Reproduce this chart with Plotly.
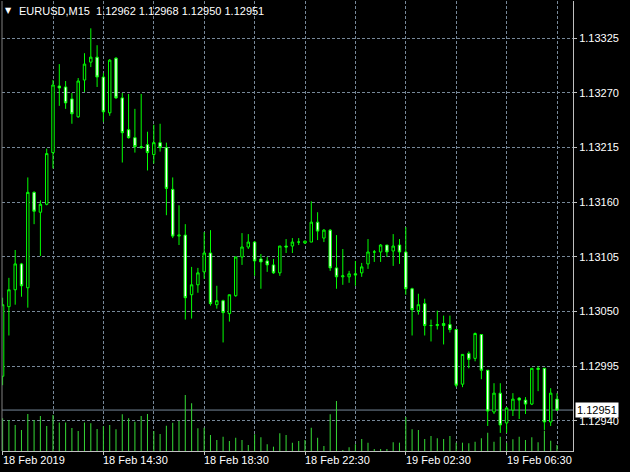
import plotly.graph_objects as go

symbol = "EURUSD"
timeframe = "M15"

open_ = [1.12985, 1.13055, 1.13072, 1.13098, 1.13074, 1.13170, 1.13150, 1.13158, 1.13210, 1.13277,
         1.13276, 1.13264, 1.13246, 1.13283, 1.13301, 1.13306, 1.13286, 1.13250, 1.13305, 1.13265,
         1.13233, 1.13225, 1.13216, 1.13218, 1.13208, 1.13220, 1.13215, 1.13173, 1.13126, 1.13127,
         1.13067, 1.13077, 1.13090, 1.13109, 1.13057, 1.13061, 1.13048, 1.13066, 1.13105, 1.13115,
         1.13120, 1.13103, 1.13101, 1.13097, 1.13089, 1.13116, 1.13116, 1.13120, 1.13119, 1.13120,
         1.13140, 1.13124, 1.13132, 1.13094, 1.13085, 1.13085, 1.13088, 1.13089, 1.13098, 1.13110,
         1.13110, 1.13117, 1.13111, 1.13117, 1.13110, 1.13073, 1.13051, 1.13058, 1.13036, 1.13036,
         1.13038, 1.13037, 1.13032, 1.12977, 1.13008, 1.13003, 1.13027, 1.12991, 1.12949, 1.12968,
         1.12938, 1.12951, 1.12963, 1.12961, 1.12957, 1.12993, 1.12993, 1.12939, 1.12962]
high = [1.13064, 1.13084, 1.13112, 1.13099, 1.13185, 1.13171, 1.13162, 1.13214, 1.13283, 1.13299,
        1.13282, 1.13270, 1.13285, 1.13310, 1.13335, 1.13318, 1.13290, 1.13304, 1.13306, 1.13270,
        1.13269, 1.13254, 1.13269, 1.13231, 1.13238, 1.13239, 1.13220, 1.13185, 1.13157, 1.13138,
        1.13095, 1.13094, 1.13130, 1.13132, 1.13076, 1.13062, 1.13067, 1.13105, 1.13129, 1.13128,
        1.13121, 1.13108, 1.13105, 1.13103, 1.13116, 1.13123, 1.13124, 1.13124, 1.13121, 1.13161,
        1.13150, 1.13133, 1.13133, 1.13127, 1.13113, 1.13091, 1.13101, 1.13099, 1.13123, 1.13112,
        1.13118, 1.13117, 1.13128, 1.13123, 1.13135, 1.13074, 1.13068, 1.13063, 1.13042, 1.13051,
        1.13046, 1.13046, 1.13032, 1.13007, 1.13010, 1.13029, 1.13027, 1.12991, 1.12978, 1.12978,
        1.12954, 1.12968, 1.12964, 1.12964, 1.12993, 1.12995, 1.12993, 1.12973, 1.12968]
low = [1.12976, 1.13026, 1.13057, 1.13065, 1.13054, 1.13138, 1.13106, 1.13157, 1.13194, 1.13257,
       1.13254, 1.13239, 1.13245, 1.13271, 1.13296, 1.13276, 1.13241, 1.13247, 1.13264, 1.13200,
       1.13224, 1.13210, 1.13214, 1.13192, 1.13199, 1.13211, 1.13147, 1.13124, 1.13117, 1.13042,
       1.13043, 1.13069, 1.13083, 1.13056, 1.13053, 1.13019, 1.13040, 1.13065, 1.13097, 1.13113,
       1.13086, 1.13073, 1.13090, 1.13088, 1.13086, 1.13109, 1.13109, 1.13117, 1.13118, 1.13120,
       1.13122, 1.13120, 1.13091, 1.13073, 1.13077, 1.13079, 1.13076, 1.13085, 1.13093, 1.13100,
       1.13100, 1.13105, 1.13096, 1.13098, 1.13067, 1.13026, 1.13047, 1.13026, 1.13020, 1.13032,
       1.13017, 1.13029, 1.12974, 1.12974, 1.12993, 1.13000, 1.12982, 1.12935, 1.12947, 1.12928,
       1.12928, 1.12945, 1.12942, 1.12947, 1.12956, 1.12970, 1.12931, 1.12935, 1.12950]
close = [1.13057, 1.13072, 1.13098, 1.13076, 1.13170, 1.13151, 1.13158, 1.13209, 1.13278, 1.13275,
         1.13260, 1.13249, 1.13282, 1.13299, 1.13306, 1.13286, 1.13251, 1.13303, 1.13265, 1.13230,
         1.13225, 1.13216, 1.13215, 1.13210, 1.13220, 1.13215, 1.13174, 1.13126, 1.13127, 1.13064,
         1.13077, 1.13089, 1.13109, 1.13058, 1.13061, 1.13049, 1.13067, 1.13105, 1.13115, 1.13120,
         1.13101, 1.13100, 1.13097, 1.13089, 1.13116, 1.13115, 1.13120, 1.13120, 1.13121, 1.13140,
         1.13131, 1.13132, 1.13094, 1.13085, 1.13086, 1.13088, 1.13087, 1.13095, 1.13110, 1.13110,
         1.13117, 1.13110, 1.13116, 1.13110, 1.13073, 1.13052, 1.13057, 1.13036, 1.13036, 1.13037,
         1.13036, 1.13032, 1.12976, 1.13007, 1.13002, 1.13028, 1.12991, 1.12950, 1.12968, 1.12936,
         1.12953, 1.12962, 1.12961, 1.12957, 1.12993, 1.12992, 1.12939, 1.12968, 1.12951]
volume = [392, 372, 312, 252, 444, 372, 420, 300, 432, 342,
          342, 276, 240, 342, 332, 264, 296, 312, 260, 440,
          392, 352, 420, 444, 240, 204, 304, 340, 360, 672,
          572, 272, 280, 192, 132, 172, 120, 160, 132, 72,
          200, 164, 80, 52, 212, 192, 100, 120, 132, 280,
          160, 60, 440, 600, 12, 44, 80, 144, 100, 24,
          24, 24, 104, 100, 408, 260, 252, 144, 180, 152,
          144, 180, 100, 100, 92, 112, 152, 220, 112, 172,
          100, 140, 172, 132, 164, 104, 244, 124, 72]

time_label_bars = [0, 16, 32, 48, 64, 80]
time_labels = ["18 Feb 2019", "18 Feb 14:30", "18 Feb 18:30", "18 Feb 22:30", "19 Feb 02:30", "19 Feb 06:30"]
price_ticks = [1.12940, 1.12995, 1.13050, 1.13105, 1.13160, 1.13215, 1.13270, 1.13325]

bars = list(range(len(close)))

FONT = "Liberation Sans"
GRID = "#778899"
W, H = 630, 472
ML, MR, MT, MB = 2, 57, 1, 21
plot_w = W - ML - MR
plot_h = H - MT - MB

fig = go.Figure()
fig.add_trace(go.Bar(x=bars, y=volume, yaxis="y2", width=0.17,
                     marker=dict(color="#32CD32", line=dict(width=0)),
                     hoverinfo="skip", showlegend=False))
fig.add_trace(go.Candlestick(
    x=bars, open=open_, high=high, low=low, close=close,
    increasing=dict(line=dict(color="#00FF00", width=1), fillcolor="#000000"),
    decreasing=dict(line=dict(color="#00FF00", width=1), fillcolor="#FFFFFF"),
    whiskerwidth=0, hoverinfo="skip", showlegend=False))

# Bid line
fig.add_shape(type="line", xref="paper", x0=0, x1=1, yref="y", y0=close[-1], y1=close[-1],
              line=dict(color=GRID, width=1), layer="between")
# left border
fig.add_shape(type="line", xref="paper", yref="paper", x0=0, x1=0, y0=0, y1=1,
              line=dict(color="#808080", width=1))

annotations = []
for b, t in zip(time_label_bars, time_labels):
    annotations.append(dict(x=b, xref="x", y=0, yref="paper", text=t, showarrow=False,
                            xanchor="left", yanchor="top", xshift=-2, yshift=-1,
                            font=dict(family=FONT, size=11, color="#FFFFFF")))
title_text = f"{symbol},{timeframe}  {open_[-1]:.5f} {high[-1]:.5f} {low[-1]:.5f} {close[-1]:.5f}"
annotations.append(dict(x=(19 - ML) / plot_w, xref="paper", y=(H - MB - 11) / plot_h, yref="paper",
                        text=title_text, showarrow=False, xanchor="left", yanchor="middle", xshift=-2,
                        font=dict(family=FONT, size=11, color="#FFFFFF")))
annotations.append(dict(x=(5 - ML) / plot_w, xref="paper", y=(H - MB - 10) / plot_h, yref="paper",
                        text="▼", showarrow=False, xanchor="left", yanchor="middle", xshift=-2,
                        font=dict(family="DejaVu Sans", size=8, color="#FFFFFF")))
annotations.append(dict(x=1, xref="paper", y=close[-1], yref="y", text=f"{close[-1]:.5f}",
                        showarrow=False, xanchor="left", yanchor="middle", xshift=2,
                        bgcolor="#FFFFFF", borderpad=1,
                        font=dict(family=FONT, size=11, color="#000000")))

fig.update_layout(
    width=W, height=H,
    margin=dict(l=ML, r=MR, t=MT, b=MB),
    paper_bgcolor="#000000", plot_bgcolor="#000000",
    showlegend=False, hovermode=False, boxgap=0.45,
    annotations=annotations,
    xaxis=dict(range=[-0.095, 90.54], rangeslider=dict(visible=False),
               tickvals=list(range(8, len(bars), 8)), showticklabels=False, ticks="",
               showgrid=True, gridcolor=GRID, gridwidth=1, griddash="3px,2px",
               minor=dict(tickmode="array", tickvals=time_label_bars, ticks="outside",
                          ticklen=3, tickcolor="#C0C0C0", showgrid=False),
               showline=True, linecolor="#C0C0C0", linewidth=1, zeroline=False, fixedrange=True),
    yaxis=dict(range=[1.129098, 1.133625], side="right", tickvals=price_ticks, tickformat=".5f",
               tickfont=dict(family=FONT, size=11, color="#FFFFFF"),
               ticks="outside", ticklen=3, tickcolor="#C0C0C0",
               showgrid=True, gridcolor=GRID, gridwidth=1, griddash="3px,2px",
               showline=True, linecolor="#C0C0C0", linewidth=1, zeroline=False, fixedrange=True),
    yaxis2=dict(overlaying="y", range=[0, plot_h * 12], visible=False, fixedrange=True),
)

fig.write_html("out.html", config={"displayModeBar": False, "staticPlot": True},
               post_script="document.body.style.margin='0';document.body.style.background='#000';")
